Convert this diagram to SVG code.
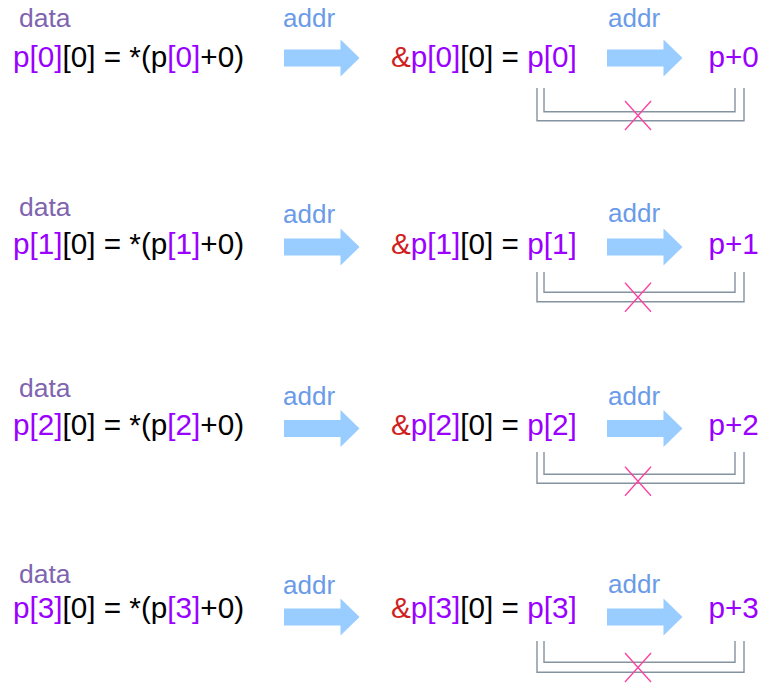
<svg xmlns="http://www.w3.org/2000/svg" xmlns:xlink="http://www.w3.org/1999/xlink" width="767" height="683" viewBox="0 0 767 683">
<style>
text { font-family: "Liberation Sans", Arial, sans-serif; }
.main { font-size: 29.7px; fill: #000000; }
.v { fill: #9900ff; }
.r { fill: #d01f1f; }
.data { font-size: 26.5px; fill: #8064b0; }
.addr { font-size: 26px; fill: #6a9be8; }
.arrow { fill: #99ccff; stroke: none; }
.br { fill: none; stroke: #8592a0; stroke-width: 1.4; }
.x { fill: none; stroke: #ff3fa0; stroke-width: 1.3; }
</style>
<defs>
<path id="arw" class="arrow" d="M0,-8.5 H56.5 V-18.5 L75.5,0 L56.5,18.5 V8.5 H0 Z"/>
<path id="cross" class="x" d="M-13,-14.5 L13,14.5 M13,-14.5 L-13,14.5"/>
</defs>

<g id="row0">
<g id="data0"><text class="data" x="19" y="27">data</text></g>
<g id="expr0"><text class="main" x="13" y="67"><tspan class="v">p[0]</tspan>[0] = *(p<tspan class="v">[0]</tspan>+0)</text></g>
<g id="addr0a"><text class="addr" x="283" y="27">addr</text></g>
<g id="amp0"><text class="main" x="391" y="67"><tspan class="r">&amp;</tspan><tspan class="v">p[0]</tspan>[0] = <tspan class="v">p[0]</tspan></text></g>
<g id="addr0b"><text class="addr" x="608" y="27">addr</text></g>
<g id="ptr0"><text class="main v" x="708.5" y="67">p+0</text></g>
</g>

<g id="row1">
<g id="data1"><text class="data" x="19" y="216">data</text></g>
<g id="expr1"><text class="main" x="13" y="254"><tspan class="v">p[1]</tspan>[0] = *(p<tspan class="v">[1]</tspan>+0)</text></g>
<g id="addr1a"><text class="addr" x="283" y="223">addr</text></g>
<g id="amp1"><text class="main" x="391" y="254"><tspan class="r">&amp;</tspan><tspan class="v">p[1]</tspan>[0] = <tspan class="v">p[1]</tspan></text></g>
<g id="addr1b"><text class="addr" x="608" y="222">addr</text></g>
<g id="ptr1"><text class="main v" x="708.5" y="254">p+1</text></g>
</g>

<g id="row2">
<g id="data2"><text class="data" x="19" y="397">data</text></g>
<g id="expr2"><text class="main" x="13" y="435"><tspan class="v">p[2]</tspan>[0] = *(p<tspan class="v">[2]</tspan>+0)</text></g>
<g id="addr2a"><text class="addr" x="283" y="405">addr</text></g>
<g id="amp2"><text class="main" x="391" y="435"><tspan class="r">&amp;</tspan><tspan class="v">p[2]</tspan>[0] = <tspan class="v">p[2]</tspan></text></g>
<g id="addr2b"><text class="addr" x="608" y="405">addr</text></g>
<g id="ptr2"><text class="main v" x="708.5" y="435">p+2</text></g>
</g>

<g id="row3">
<g id="data3"><text class="data" x="19" y="583">data</text></g>
<g id="expr3"><text class="main" x="13" y="617.5"><tspan class="v">p[3]</tspan>[0] = *(p<tspan class="v">[3]</tspan>+0)</text></g>
<g id="addr3a"><text class="addr" x="283" y="594">addr</text></g>
<g id="amp3"><text class="main" x="391" y="617.5"><tspan class="r">&amp;</tspan><tspan class="v">p[3]</tspan>[0] = <tspan class="v">p[3]</tspan></text></g>
<g id="addr3b"><text class="addr" x="608" y="593">addr</text></g>
<g id="ptr3"><text class="main v" x="708.5" y="617.5">p+3</text></g>
</g>

<g id="connectors">
<use xlink:href="#arw" href="#arw" x="284" y="58"/>
<use xlink:href="#arw" href="#arw" x="607" y="58"/>
<polyline class="br" points="544,88 544,111.7 735,111.7 735,88"/>
<polyline class="br" points="537,88 537,120.7 744,120.7 744,88"/>
<use xlink:href="#cross" href="#cross" x="638" y="115.5"/>

<use xlink:href="#arw" href="#arw" x="284" y="247"/>
<use xlink:href="#arw" href="#arw" x="607" y="247"/>
<polyline class="br" points="544,272 544,292.3 735,292.3 735,272"/>
<polyline class="br" points="537,272 537,301.7 744,301.7 744,272"/>
<use xlink:href="#cross" href="#cross" x="638" y="297.3"/>

<use xlink:href="#arw" href="#arw" x="284" y="428.5"/>
<use xlink:href="#arw" href="#arw" x="607" y="428.5"/>
<polyline class="br" points="544,452 544,474.3 735,474.3 735,452"/>
<polyline class="br" points="537,452 537,483.3 744,483.3 744,452"/>
<use xlink:href="#cross" href="#cross" x="638" y="481.3"/>

<use xlink:href="#arw" href="#arw" x="284" y="617"/>
<use xlink:href="#arw" href="#arw" x="607" y="617"/>
<polyline class="br" points="544,641 544,662.3 735,662.3 735,641"/>
<polyline class="br" points="537,641 537,672.3 744,672.3 744,641"/>
<use xlink:href="#cross" href="#cross" x="638" y="667.5"/>
</g>
</svg>
